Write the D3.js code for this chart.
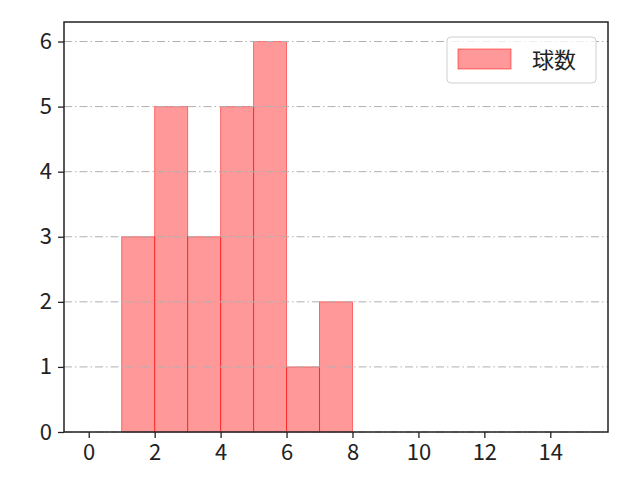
<!DOCTYPE html>
<html>
<head>
<meta charset="utf-8">
<script src="https://cdn.jsdelivr.net/npm/d3@7"></script>
<style>
  body { margin: 0; background: #fff; }
  svg text { font-family: "Noto Sans CJK JP", "DejaVu Sans", sans-serif; }
</style>
</head>
<body>
<svg id="chart" width="640" height="480"></svg>
<script>
'use strict';

// histogram bins: [start, end) and counts
var binStarts = [1, 2, 3, 4, 5, 6, 7];
var binWidth = 1;
var counts = [3, 5, 3, 5, 6, 1, 2];
var xTicks = [0, 2, 4, 6, 8, 10, 12, 14];
var yTicks = [0, 1, 2, 3, 4, 5, 6];
var seriesName = '球数';

var margin = {left: 64, right: 32, top: 22, bottom: 48},
    width = 640 - margin.left - margin.right,
    height = 480 - margin.top - margin.bottom;

var svg = d3.select('#chart');
var g = svg.append('g')
    .attr('transform', `translate(${margin.left},${margin.top})`);

var x = d3.scaleLinear().domain([-0.75, 15.75]).range([0, width]);
var y = d3.scaleLinear().domain([0, 6.3]).range([height, 0]);

// bars
g.append('g')
    .selectAll('rect')
    .data(counts)
    .enter()
    .append('rect')
    .attr('x', (d, i) => x(binStarts[i]))
    .attr('y', d => y(d))
    .attr('width', (d, i) => x(binStarts[i] + binWidth) - x(binStarts[i]))
    .attr('height', d => y(0) - y(d))
    .attr('fill', '#ff0000')
    .attr('fill-opacity', 0.4)
    .attr('stroke', '#ff0000')
    .attr('stroke-opacity', 0.5)
    .attr('stroke-width', 1);

// grid (drawn above bars)
g.append('g')
    .selectAll('line')
    .data(yTicks)
    .enter()
    .append('line')
    .attr('x1', 0)
    .attr('x2', width)
    .attr('y1', d => y(d))
    .attr('y2', d => y(d))
    .attr('stroke', '#b0b0b0')
    .attr('stroke-width', 1)
    .attr('stroke-dasharray', '8,3,1.5,3');

// axes
var xAxis = g.append('g')
    .attr('transform', `translate(0,${height})`)
    .call(d3.axisBottom(x).tickValues(xTicks).tickFormat(d3.format('d'))
        .tickSize(6).tickPadding(6));
var yAxis = g.append('g')
    .call(d3.axisLeft(y).tickValues(yTicks).tickFormat(d3.format('d'))
        .tickSize(6).tickPadding(6));

[xAxis, yAxis].forEach(a => {
    a.select('.domain').remove();
    a.selectAll('.tick line').attr('stroke', '#222').attr('stroke-width', 1.3);
    a.selectAll('.tick text')
        .attr('fill', '#222')
        .style('font-size', '22px')
        .style('font-family', '"Noto Sans CJK JP", sans-serif');
});

// frame
g.append('rect')
    .attr('x', 0).attr('y', 0)
    .attr('width', width).attr('height', height)
    .attr('fill', 'none')
    .attr('stroke', '#222')
    .attr('stroke-width', 1.5);

// legend
var legend = g.append('g')
    .attr('transform', `translate(${width - 161},${15})`);
legend.append('rect')
    .attr('width', 149).attr('height', 46)
    .attr('rx', 4)
    .attr('fill', '#fff')
    .attr('fill-opacity', 0.8)
    .attr('stroke', '#d0d0d0');
legend.append('rect')
    .attr('x', 11).attr('y', 12)
    .attr('width', 53).attr('height', 20)
    .attr('fill', '#ff0000')
    .attr('fill-opacity', 0.4)
    .attr('stroke', '#ff0000')
    .attr('stroke-opacity', 0.5);
legend.append('text')
    .attr('x', 85).attr('y', 31)
    .style('font-size', '22px')
    .attr('fill', '#222')
    .text(seriesName);
</script>
</body>
</html>
